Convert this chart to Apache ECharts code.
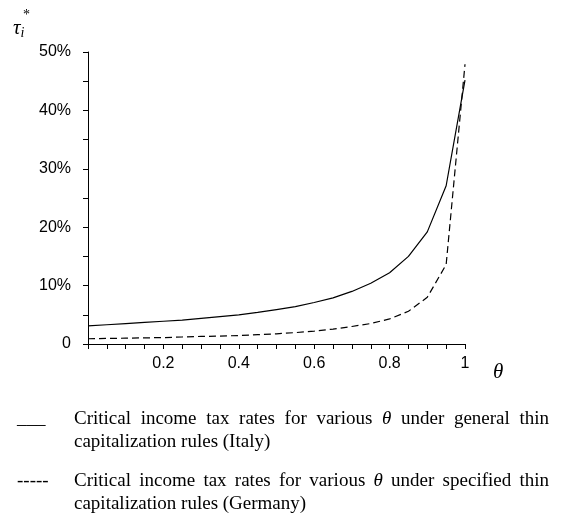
<!DOCTYPE html>
<html><head><meta charset="utf-8">
<script src="https://cdn.jsdelivr.net/npm/echarts@6/dist/echarts.min.js"></script>
<style>html,body{margin:0;padding:0;background:#fff}#c{width:564px;height:520px}</style>
</head><body><div id="c"></div>
<script>
const theta = [0,0.05,0.1,0.15,0.2,0.25,0.3,0.35,0.4,0.45,0.5,0.55,0.6,0.65,0.7,0.75,0.8,0.85,0.9,0.95,1];
const italy = [3.1,3.3,3.5,3.7,3.9,4.1,4.4,4.7,5.0,5.4,5.9,6.4,7.1,7.9,9.0,10.4,12.2,15.0,19.2,27.1,45.2];
const germany = [0.9,0.95,1.0,1.05,1.1,1.2,1.3,1.35,1.45,1.6,1.75,1.95,2.2,2.55,3.0,3.5,4.3,5.6,8.0,13.6,47.9];
const yTicks = ['0','10%','20%','30%','40%','50%'];
const xTicks = ['','0.2','0.4','0.6','0.8','1'];
const legendLines = [
  {mark:'___', text:['Critical income tax rates for various θ under general thin','capitalization rules (Italy)']},
  {mark:'-----', text:['Critical income tax rates for various θ under specified thin','capitalization rules (Germany)']}
];

const chart = echarts.init(document.getElementById('c'));
const axisFont = {color:'#000', fontFamily:'Liberation Sans, Arial, sans-serif', fontSize:16};
const serif = 'Liberation Serif, Times New Roman, serif';
const legFS = 19;

const cv = document.createElement('canvas').getContext('2d');
function measure(w, italic){ cv.font = (italic?'italic ':'') + legFS + 'px ' + serif; return cv.measureText(w).width; }
const graphics = [];
graphics.push({type:'text', left:13, top:18, style:{text:'{t|τ}{s|i}', rich:{t:{font:'italic 21px '+serif, fill:'#000'}, s:{font:'italic 14px '+serif, fill:'#000', padding:[10,0,0,0]}}}});
graphics.push({type:'text', left:23, top:8, style:{text:'*', font:'14px '+serif, fill:'#000'}});
graphics.push({type:'text', left:493, top:362, style:{text:'θ', font:'italic 21px '+serif, fill:'#000'}});
const x0 = 74, x1 = 549;
const centers = [[419,442],[481,504]];
legendLines.forEach((L, li) => {
  graphics.push({type:'text', x:17, y:centers[li][0], style:{text:L.mark, font:legFS+'px '+serif, fill:'#000', verticalAlign:'middle'}});
  const words = L.text[0].split(' ');
  const ws = words.map(w => measure(w, w==='θ'));
  const total = ws.reduce((a,b)=>a+b,0);
  const gap = (x1 - x0 - total) / (words.length - 1);
  let x = x0;
  words.forEach((w,i) => {
    graphics.push({type:'text', x:x, y:centers[li][0], style:{text:w, font:(w==='θ'?'italic ':'')+legFS+'px '+serif, fill:'#000', verticalAlign:'middle'}});
    x += ws[i] + gap;
  });
  graphics.push({type:'text', x:x0, y:centers[li][1], style:{text:L.text[1], font:legFS+'px '+serif, fill:'#000', verticalAlign:'middle'}});
});

chart.setOption({
  animation:false,
  grid:{left:88, top:52, width:377, height:292},
  xAxis:{type:'value', min:0, max:1, interval:0.2,
    axisLine:{lineStyle:{color:'#000', width:1}},
    axisTick:{show:true, length:5, lineStyle:{color:'#000'}},
    minorTick:{show:true, splitNumber:4, length:5, lineStyle:{color:'#000'}},
    splitLine:{show:false},
    axisLabel:Object.assign({margin:12, formatter:(v)=>xTicks[Math.round(v/0.2)]}, axisFont)},
  yAxis:{type:'value', min:0, max:50, interval:10,
    axisLine:{show:true, lineStyle:{color:'#000', width:1}},
    axisTick:{show:true, length:5, lineStyle:{color:'#000'}},
    minorTick:{show:true, splitNumber:2, length:5, lineStyle:{color:'#000'}},
    splitLine:{show:false},
    axisLabel:Object.assign({margin:17, formatter:(v)=>yTicks[Math.round(v/10)]}, axisFont)},
  series:[
    {type:'line', data:theta.map((t,i)=>[t,italy[i]]), symbol:'none', lineStyle:{color:'#000', width:1.2}},
    {type:'line', data:theta.map((t,i)=>[t,germany[i]]), symbol:'none', lineStyle:{color:'#000', width:1.2, type:[7,4]}}
  ],
  graphic:graphics
});
</script></body></html>
